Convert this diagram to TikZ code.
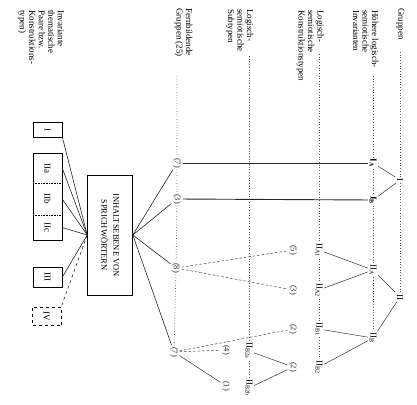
\documentclass[tikz,border=0pt]{standalone}
\usepackage{fontspec}
\setmainfont{Liberation Serif}
\begin{document}
\begin{tikzpicture}[x=1pt,y=-1pt,
  txt/.style={rotate=-90,font=\fontsize{9}{9.5}\selectfont,inner sep=0pt,align=left,anchor=north west},
  lab/.style={rotate=-90,font=\fontsize{9}{10}\selectfont,inner sep=1.5pt},
  cnt/.style={rotate=-90,font=\fontsize{8.5}{10}\selectfont,inner sep=1.5pt,text=black!80},
  guide/.style={dotted,line width=0.7pt,black!65},
  tree/.style={line width=0.5pt,black!80},
  heavy/.style={line width=0.9pt,black!85},
  dashedge/.style={dashed,dash pattern=on 2.5pt off 2pt,line width=0.5pt,black!75},
  fan/.style={line width=0.6pt,black!85},
  lbox/.style={rotate=-90,draw,line width=0.8pt,font=\fontsize{9}{10}\selectfont,inner sep=0pt}]
\useasboundingbox (0,0) rectangle (417,404);

% level headings
\node[txt] (hGr) at (404.5,8) {Gruppen};
\node[txt] (hHo) at (378.5,10) {Höhere logisch-\\semiotische\\Invarianten};
\node[txt] (hKo) at (324,10) {Logisch-\\semiotische\\Konstruktionstypen};
\node[txt] (hSu) at (253.5,9) {Logisch-\\semiotische\\Subtypen};
\node[txt] (hFe) at (192.5,8) {Fernbildende\\Gruppen (25)};
\node[txt] (hIn) at (64,10) {Invariante\\thematische\\Paare bzw.\\Konstruktions-\\typen)};

% guide start points
\coordinate (gGr) at (400,52);
\coordinate (gHo) at (373,76);
\coordinate (gKo) at (319,54);
\coordinate (gSu) at (249,56);
\coordinate (gFe) at (177,76);

% tree nodes
\node[lab] (I) at (400,180) {I};
\node[lab] (II) at (400,297) {II};
\node[lab,font=\fontsize{9}{10}\selectfont\bfseries] (IA) at (373,163) {I\textsubscript{A}};
\node[lab,font=\fontsize{9}{10}\selectfont\bfseries] (IB) at (373,200) {I\textsubscript{B}};
\node[lab] (IIA) at (373,270) {II\textsubscript{A}};
\node[lab] (IIB) at (373,338) {II\textsubscript{B}};
\node[lab] (IIA1) at (319,250) {II\textsubscript{A1}};
\node[lab] (IIA2) at (319,290) {II\textsubscript{A2}};
\node[lab] (IIB1) at (319,329) {II\textsubscript{B1}};
\node[lab] (IIB2) at (319,367) {II\textsubscript{B2}};
\node[cnt] (c5) at (293,250) {(5)};
\node[cnt] (c3) at (293,290) {(3)};
\node[cnt] (c2a) at (293,329) {(2)};
\node[cnt] (c2b) at (293,367) {(2)};
\node[lab] (IIB2a) at (249,351) {II\textsubscript{B2a}};
\node[lab] (IIB2b) at (249,388) {II\textsubscript{B2b}};
\node[cnt] (c4) at (226,350) {(4)};
\node[cnt] (c1) at (226,386) {(1)};
\node[cnt] (F1) at (177,163) {(7)};
\node[cnt] (F2) at (177,199) {(3)};
\node[cnt] (F3) at (176,268) {(8)};
\node[cnt] (F4) at (174,352) {(7)};

% central box
\node[lbox,minimum width=120pt,minimum height=45pt,align=center,font=\fontsize{8.5}{12}\selectfont,line width=0.6pt] (box) at (110,235) {INHALTSEBENE VON\\SPRICHWÖRTERN};

% left boxes
\node[lbox,minimum width=15pt,minimum height=29pt] (bI) at (47.5,129.5) {I};
\node[rotate=-90,inner sep=0pt,minimum width=30pt,minimum height=29pt,font=\fontsize{9}{10}\selectfont] (bIIa) at (47.5,168) {IIa};
\node[rotate=-90,inner sep=0pt,minimum width=32pt,minimum height=29pt,font=\fontsize{9}{10}\selectfont] (bIIb) at (47.5,199) {IIb};
\node[rotate=-90,inner sep=0pt,minimum width=25pt,minimum height=29pt,font=\fontsize{9}{10}\selectfont] (bIIc) at (47.5,227.5) {IIc};
\draw[line width=0.8pt] (33,153) rectangle (62,240);
\draw[densely dotted,line width=0.6pt] (33,183) -- (62,183);
\draw[densely dotted,line width=0.6pt] (33,215) -- (62,215);
\node[lbox,minimum width=20pt,minimum height=29pt] (bIII) at (47.5,277) {III};
\node[lbox,dashed,minimum width=18pt,minimum height=29pt,line width=0.6pt] (bIV) at (46.5,316) {IV};

% guides
\draw[guide] (gGr) -- (I) -- (II);
\draw[guide] (gHo) -- (IA) -- (IB) -- (IIA) -- (IIB);
\draw[guide] (gKo) -- (IIA1) -- (IIA2) -- (IIB1) -- (IIB2);
\draw[guide] (gSu) -- (IIB2a) -- (IIB2b);
\draw[guide] (gFe) -- (F1) -- (F2) -- (F3) -- (F4);

% tree edges
\draw[tree] (I) -- (IA);
\draw[tree] (I) -- (IB);
\draw[tree] (II) -- (IIA);
\draw[tree] (II) -- (IIB);
\draw[tree] (IIA) -- (IIA1);
\draw[tree] (IIA) -- (IIA2);
\draw[tree] (IIB) -- (IIB1);
\draw[tree] (IIB) -- (IIB2);
\draw[tree] (c2b) -- (IIB2a);
\draw[tree] (c2b) -- (IIB2b);
\draw[heavy] (IA) -- (F1);
\draw[heavy] (IB) -- (F2);
\draw[dashedge] (F3) -- (c5);
\draw[dashedge] (F3) -- (c3);
\draw[dashedge] (F4) -- (c2a);
\draw[dashedge] (F4) -- (c4);
\draw[tree] (F4) -- (c1);

% fans
\draw[fan] (box.north) -- (F1);
\draw[fan] (box.north) -- (F2);
\draw[fan] (box.north) -- (F3);
\draw[fan] (box.north) -- (F4);
\draw[fan] (box.south) -- (bI.north east);
\draw[fan] (box.south) -- (bIIa.north);
\draw[fan] (box.south) -- (bIIb.north);
\draw[fan] (box.south) -- (bIIc.north);
\draw[fan] (box.south) -- (bIII.north);
\draw[fan,dashed] (box.south) -- (bIV.north west);
\end{tikzpicture}
\end{document}
